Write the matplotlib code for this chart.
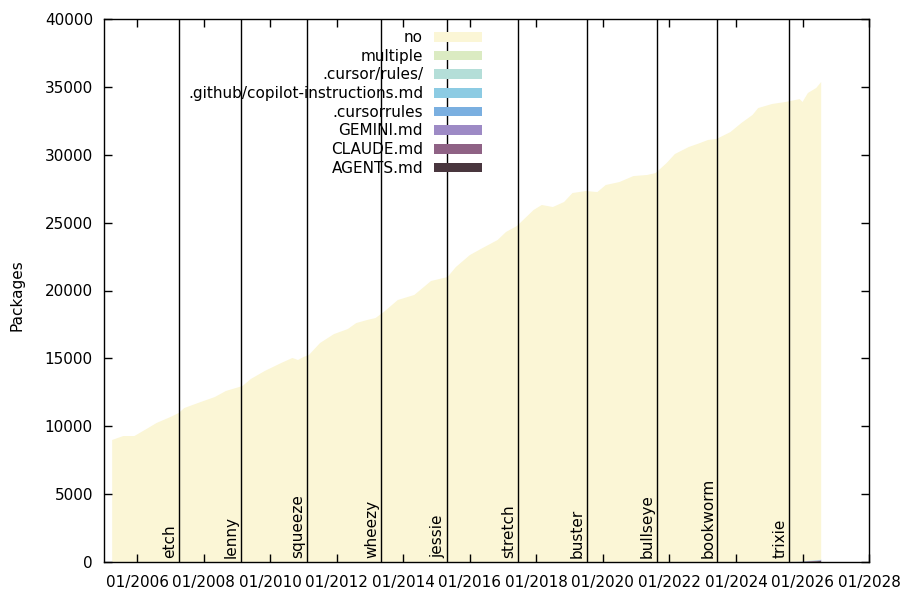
import numpy as np
import pandas as pd
import matplotlib
matplotlib.use("Agg")
import matplotlib.pyplot as plt
import matplotlib.dates as mdates
from matplotlib.patches import Patch
from matplotlib.transforms import offset_copy

plt.rcParams['font.family'] = ['DejaVu Sans']

# package counts per snapshot
dates = [
    "2005-04", "2005-08", "2005-12", "2006-05", "2006-08", "2007-01", "2007-04",
    "2007-06", "2007-12", "2008-05", "2008-09", "2009-03", "2009-06", "2009-11",
    "2010-05", "2010-09", "2010-11", "2011-01", "2011-03", "2011-07", "2011-12",
    "2012-05", "2012-08", "2012-12", "2013-03", "2013-06", "2013-11", "2014-05",
    "2014-11", "2015-05", "2015-08", "2016-01", "2016-05", "2016-11", "2017-02",
    "2017-06", "2017-12", "2018-03", "2018-07", "2018-11", "2019-02", "2019-07",
    "2019-11", "2020-02", "2020-07", "2020-12", "2021-05", "2021-08", "2021-12",
    "2022-03", "2022-08", "2022-12", "2023-03", "2023-06", "2023-11", "2024-03",
    "2024-07", "2024-09", "2025-02", "2025-07", "2025-12", "2026-01", "2026-03",
    "2026-06", "2026-07-25",
]
no_file = [
    8990, 9280, 9280, 9870, 10240, 10680, 10975,
    11340, 11790, 12150, 12600, 12960, 13480, 14070,
    14660, 15030, 14880, 15100, 15250, 16130, 16790,
    17160, 17600, 17830, 17970, 18420, 19300, 19670,
    20700, 20990, 21730, 22610, 23060, 23720, 24310,
    24750, 25930, 26300, 26150, 26520, 27180, 27330,
    27250, 27770, 27990, 28430, 28510, 28650, 29390,
    30050, 30570, 30860, 31090, 31160, 31670, 32340,
    32930, 33440, 33740, 33890, 34070, 33830, 34450,
    34770, 35165,
]
# agent instruction files only show up in the last snapshots
recent_multiple = [3, 7, 12, 18, 25]
recent_cursor_rules_dir = [3, 5, 7, 9, 10]
recent_copilot = [4, 7, 11, 15, 18]
recent_cursorrules = [5, 7, 9, 11, 12]
recent_gemini = [2, 4, 7, 11, 15]
recent_claude = [6, 12, 22, 35, 45]
recent_agents = [8, 15, 30, 50, 70]

releases = ["etch", "lenny", "squeeze", "wheezy", "jessie", "stretch",
            "buster", "bullseye", "bookworm", "trixie"]
release_dates = ["2007-04-08", "2009-02-14", "2011-02-06", "2013-05-04",
                 "2015-04-25", "2017-06-17", "2019-07-06", "2021-08-14",
                 "2023-06-10", "2025-08-09"]

labels = ["AGENTS.md", "CLAUDE.md", "GEMINI.md", ".cursorrules",
          ".github/copilot-instructions.md", ".cursor/rules/", "multiple", "no"]
colors = ["#49363e", "#8f6285", "#9d8ac5", "#7aafe0",
          "#8ccbe3", "#b4ded8", "#dbebc2", "#fbf6d6"]


def pad(recent):
    return [0] * (len(dates) - len(recent)) + recent


x = pd.to_datetime(dates, format="mixed")
series = [pad(recent_agents), pad(recent_claude), pad(recent_gemini),
          pad(recent_cursorrules), pad(recent_copilot),
          pad(recent_cursor_rules_dir), pad(recent_multiple), no_file]

fig = plt.figure(figsize=(9, 6), dpi=100)
ax = fig.add_axes([104 / 900, 38 / 600, 765 / 900, 543 / 600])

ax.stackplot(x, *series, colors=colors, linewidth=0)

for name, d in zip(releases, pd.to_datetime(release_dates)):
    ax.axvline(d, color="black", lw=1)
    tr = offset_copy(ax.get_xaxis_transform(), fig=fig, x=-2, y=4, units="dots")
    ax.text(d, 0, name, rotation=90, ha="right", va="bottom",
            fontsize=11, transform=tr)

ax.set_xlim(pd.Timestamp("2005-01-01"), pd.Timestamp("2028-01-01"))
ax.set_ylim(0, 40000)
ax.set_yticks(np.arange(0, 40001, 5000))
ax.xaxis.set_major_locator(mdates.YearLocator(2))
ax.xaxis.set_major_formatter(mdates.DateFormatter("01/%Y"))
ax.tick_params(direction="in", length=6, width=1, labelsize=11,
               top=True, right=True)
ax.tick_params(axis="x", pad=9)
ax.tick_params(axis="y", pad=8)
ax.set_ylabel("Packages", fontsize=11)
ax.yaxis.set_label_coords(25 / 900, 305 / 600, transform=fig.transFigure)
for sp in ax.spines.values():
    sp.set_linewidth(1)

handles = [Patch(facecolor=c, edgecolor="none") for c in colors][::-1]
ax.legend(handles, labels[::-1], loc="upper right", frameon=False,
          markerfirst=False, fontsize=11, handlelength=3.15, handleheight=0.6,
          labelspacing=0.24, handletextpad=0.7, borderaxespad=0,
          bbox_to_anchor=(488 / 900, 1 - 24 / 600),
          bbox_transform=fig.transFigure)

fig.savefig("out.png", dpi=100)
